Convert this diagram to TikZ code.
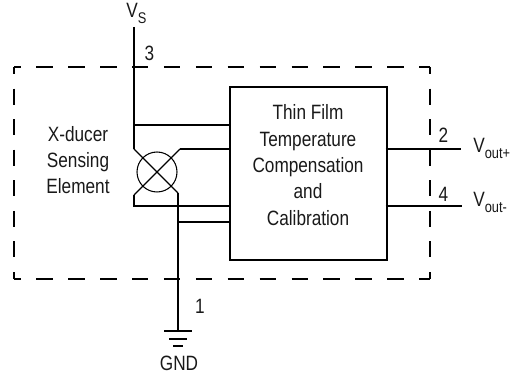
\documentclass[tikz,border=0pt]{standalone}
\usepackage{fontspec}
\setmainfont[FakeStretch=0.83]{Liberation Sans}
\usepackage{pgf,tikz}
\newcommand{\lowsub}[2]{\raisebox{#1}{\fontsize{8.8}{9}\selectfont #2}}
\tikzset{wire/.style={line width=0.75pt},
  lbl/.style={inner sep=0pt,font=\fontsize{11.8}{15}\selectfont,text=black!90,align=center}}
\begin{document}
\begin{tikzpicture}[line cap=butt,line join=miter,x=0.02cm,y=-0.02cm]
\useasboundingbox (0,0) rectangle (510,377);
% outer dashed frame
\coordinate (tl) at (14,67);
\coordinate (tr) at (430,67);
\coordinate (br) at (430,279);
\coordinate (bl) at (14,279);
\draw [wire,dash pattern=on 9.35pt off 8.8pt,dash phase=5.4pt] (tl) -- (tr);
\draw [wire,dash pattern=on 9.1pt off 8.3pt,dash phase=5.1pt] (tr) -- (br);
\draw [wire,dash pattern=on 9.35pt off 8.8pt,dash phase=5.4pt] (bl) -- (br);
\draw [wire,dash pattern=on 9.1pt off 8.3pt,dash phase=5.1pt] (tl) -- (bl);
% compensation block
\node (comp) [draw,wire,minimum width=157*0.02cm,minimum height=173*0.02cm,inner sep=0pt] at (308.5,173.5) {};
\node (title) [lbl] at (308,165) {Thin Film\\Temperature\\Compensation\\and\\Calibration};
% sensing element
\node (bridge) [draw,circle,line width=0.6pt,minimum size=40*0.02cm,inner sep=0pt] at (157,172) {};
\node (sense) [lbl] at (78,160) {X-ducer\\Sensing\\Element};
\coordinate (a) at (134,149);
\coordinate (b) at (178,193);
\coordinate (c) at (180,149);
\coordinate (d) at (134,195);
\draw [wire] (a) -- (b);
\draw [wire] (d) -- (c);
% supply
\node (vs) [lbl,anchor=base west] at (126,18) {V\lowsub{-3.2pt}{S}};
\coordinate (top) at (134,27);
\coordinate (tap) at (134,125);
\draw [wire] (top) -- (a);
\draw [wire] (tap) -- (tap -| comp.west);
\draw [wire,shorten >=-1.2pt] (c) -- (c -| comp.west);
\draw [wire,shorten >=-1.2pt] (d) -- (134,206) -- (comp.west |- 134,206);
\node (three) [lbl] at (149.5,53) {3};
% ground
\coordinate (g0) at (178,331);
\coordinate (g1) at (178,222);
\draw [wire] (b) -- (g0);
\draw [wire] (g1) -- (g1 -| comp.west);
\draw [wire] (164,331) -- (192,331);
\draw [wire] (169,339) -- (187,339);
\draw [wire] (173,346) -- (183,346);
\node (one) [lbl] at (200,306.5) {1};
\node (gnd) [lbl] at (179,363) {GND};
% outputs
\coordinate (o2) at (461,149);
\coordinate (o4) at (462,206);
\draw [wire,shorten <=-1.2pt] (comp.east |- o2) -- (o2);
\draw [wire,shorten <=-1.2pt] (comp.east |- o4) -- (o4);
\node (two) [lbl] at (443.5,135) {2};
\node (four) [lbl] at (443.5,194) {4};
\node (vp) [lbl,anchor=base west] at (473,153) {V\lowsub{-3.2pt}{out+}};
\node (vm) [lbl,anchor=base west] at (473,207) {V\lowsub{-3.2pt}{out-}};
\end{tikzpicture}
\end{document}
